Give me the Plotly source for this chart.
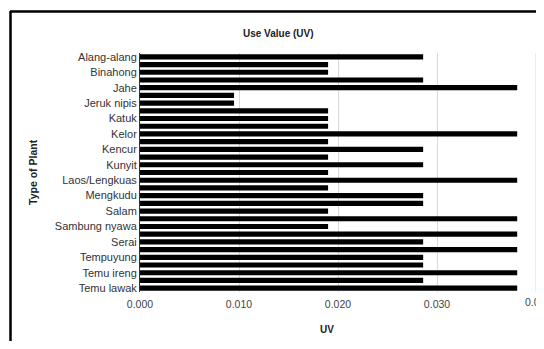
import plotly.graph_objects as go

plants = ["Alang-alang", "Bangle", "Binahong", "Brotowali", "Jahe", "Jambu biji",
          "Jeruk nipis", "Kapulaga", "Katuk", "Kayu manis", "Kelor", "Kemangi",
          "Kencur", "Kumis kucing", "Kunyit", "Kunyit putih", "Laos/Lengkuas",
          "Lidah buaya", "Mengkudu", "Pandan", "Salam", "Sambiloto", "Sambung nyawa",
          "Sembung", "Serai", "Sirih", "Tempuyung", "Temu giring", "Temu ireng",
          "Temu kunci", "Temu lawak"]
uv = [0.0286, 0.0190, 0.0190, 0.0286, 0.0381, 0.0095, 0.0095, 0.0190, 0.0190,
      0.0190, 0.0381, 0.0190, 0.0286, 0.0190, 0.0286, 0.0190, 0.0381, 0.0190,
      0.0286, 0.0286, 0.0190, 0.0381, 0.0190, 0.0381, 0.0286, 0.0381, 0.0286,
      0.0286, 0.0381, 0.0286, 0.0381]
x_ticks = [0.0, 0.01, 0.02, 0.03, 0.04]
x_ticktext = ["0.000", "0.010", "0.020", "0.030", "0.040"]

# page has an 8px body margin, so figure coords = page coords - 8
OFF = 8
W, H = 544 - OFF, 349 - 2 * OFF
L, R, T = 140 - OFF, 7, 53 - OFF
B = (OFF + H) - 292
pw, ph = W - L - R, H - T - B

def px(x):
    return (x - OFF - L) / pw

def py(y):
    return (H - B - (y - OFF)) / ph

font = "Arial, Liberation Sans, sans-serif"
tick_size = 10.5

fig = go.Figure(go.Bar(
    x=uv, y=plants, orientation="h",
    marker=dict(color="#000000", line=dict(width=0)),
))

fig.update_layout(
    width=W, height=H,
    margin=dict(l=L, r=R, t=T, b=B),
    paper_bgcolor="white", plot_bgcolor="white",
    bargap=0.33,
    showlegend=False,
    font=dict(family=font, size=10, color="#333333"),
    xaxis=dict(range=[0, 0.0401], tickvals=x_ticks[:-1], ticktext=x_ticktext[:-1],
               showgrid=True, gridcolor="#d9d9d9", gridwidth=1,
               zeroline=False, showline=False, ticks="",
               ticklabelstandoff=4,
               tickfont=dict(size=tick_size, color="#444444")),
    yaxis=dict(type="category", autorange="reversed",
               tickmode="array", tickvals=plants[::2], ticktext=plants[::2],
               showgrid=False, showline=True, linecolor="#333333", linewidth=1,
               ticks="", tickfont=dict(size=11, color="#333333")),
    shapes=[
        dict(type="line", xref="x", yref="paper",
             x0=x_ticks[-1], x1=x_ticks[-1], y0=0, y1=1,
             line=dict(color="#d9d9d9", width=1), layer="below"),
        dict(type="line", xref="paper", yref="paper",
             x0=px(10), x1=px(560), y0=py(11.5), y1=py(11.5),
             line=dict(color="#000000", width=2.5)),
        dict(type="line", xref="paper", yref="paper",
             x0=px(10.5), x1=px(10.5), y0=py(11), y1=py(360),
             line=dict(color="#000000", width=2.5)),
    ],
    annotations=[
        # last tick label, truncated at the page edge as in the original
        dict(text=x_ticktext[-1][:-1], xref="x", yref="paper",
             x=x_ticks[-1], y=py(302), xanchor="left", yanchor="middle",
             xshift=-13, showarrow=False,
             font=dict(size=tick_size, color="#444444")),
        dict(text="<b>Use Value (UV)</b>", xref="paper", yref="paper",
             x=px(278), y=py(33), xanchor="center", yanchor="middle",
             showarrow=False, font=dict(size=10, color="#222222")),
        dict(text="<b>UV</b>", xref="paper", yref="paper",
             x=px(327), y=py(329), xanchor="center", yanchor="middle",
             showarrow=False, font=dict(size=10, color="#222222")),
        dict(text="<b>Type of Plant</b>", xref="paper", yref="paper",
             x=px(33), y=py(172), xanchor="center", yanchor="middle",
             showarrow=False, textangle=-90,
             font=dict(size=10.5, color="#222222")),
    ],
)

fig.write_html("out.html")
